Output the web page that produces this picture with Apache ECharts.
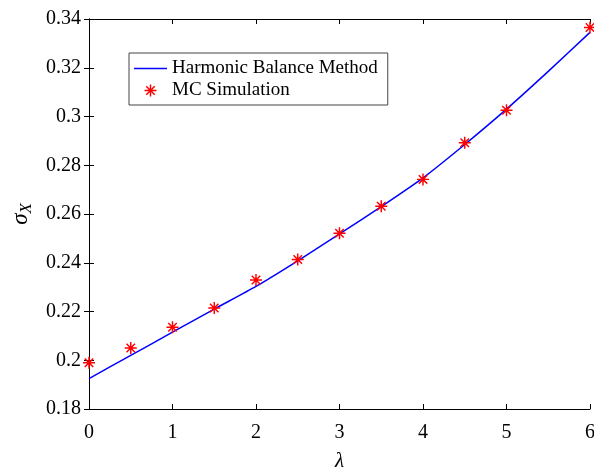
<!DOCTYPE html>
<html><head><meta charset="utf-8">
<script src="https://cdn.jsdelivr.net/npm/echarts@6/dist/echarts.min.js"></script>
<style>html,body{margin:0;padding:0;background:#fff}#c{width:594px;height:468px}</style>
</head><body><div id="c"></div>
<script>
const lineX = [0, 0.5, 1, 1.5, 2, 2.5, 3, 3.5, 4, 4.5, 5, 5.5, 6];
const hbmValues = [0.1925, 0.2020, 0.2115, 0.2210, 0.2303, 0.2408, 0.2518, 0.2630, 0.2748, 0.2885, 0.3030, 0.3185, 0.3345];
const mcX = [0, 0.5, 1, 1.5, 2, 2.5, 3, 3.5, 4, 4.5, 5, 6];
const mcValues = [0.1990, 0.2050, 0.2135, 0.2214, 0.2329, 0.2413, 0.2521, 0.2632, 0.2742, 0.2892, 0.3026, 0.3365];
const seriesNames = ['Harmonic Balance Method', 'MC Simulation'];

const star = 'path://M8.8,0L11.2,0L11.2,20L8.8,20Z M0,8.8L20,8.8L20,11.2L0,11.2Z M2.08,3.78L3.78,2.08L17.92,16.22L16.22,17.92Z M16.22,2.08L17.92,3.78L3.78,17.92L2.08,16.22Z';
const font = '"Liberation Serif", "Times New Roman", serif';
const axisCommon = {
  axisLine: {show: true, lineStyle: {color: '#000', width: 1}},
  axisTick: {show: true, inside: true, length: 5, lineStyle: {color: '#000'}},
  splitLine: {show: false}
};
const chart = echarts.init(document.getElementById('c'), null, {renderer: 'canvas'});
chart.setOption({
  animation: false,
  backgroundColor: '#fff',
  grid: {left: 89, right: 4, top: 19, bottom: 59, containLabel: false, outerBoundsMode: 'none'},
  legend: {
    orient: 'vertical', left: 129, top: 53,
    backgroundColor: '#fff', borderColor: '#444', borderWidth: 1,
    padding: [6, 10, 5, 5], itemGap: 3, itemWidth: 33, itemHeight: 12,
    textStyle: {fontFamily: font, fontSize: 19, color: '#000', padding: [0, 0, 0, 0]},
    data: [
      {name: seriesNames[0], icon: 'path://M0,0L33,0L33,1.6L0,1.6Z', itemStyle: {color: '#0000ff'}},
      {name: seriesNames[1], icon: star, itemStyle: {color: '#ff0000'}}
    ]
  },
  xAxis: [
    Object.assign({type: 'value', min: 0, max: 6, interval: 1, position: 'bottom',
      axisLabel: {fontFamily: font, fontSize: 20, color: '#000', margin: 14},
      name: 'λ', nameLocation: 'middle', nameGap: 42,
      nameTextStyle: {fontFamily: font, fontSize: 21, fontStyle: 'italic', color: '#000'}}, axisCommon),
    Object.assign({type: 'value', min: 0, max: 6, interval: 1, position: 'top', axisLabel: {show: false}}, axisCommon)
  ],
  yAxis: [
    Object.assign({type: 'value', min: 0.18, max: 0.34, interval: 0.02, position: 'left',
      axisLabel: {fontFamily: font, fontSize: 20, color: '#000', margin: 8,
        formatter: v => String(+v.toFixed(2))},
      name: '{a|σ}{b|X}', nameLocation: 'middle', nameGap: 54,
      nameTextStyle: {color: '#000', rich: {
        a: {fontFamily: font, fontSize: 23, fontStyle: 'italic', color: '#000'},
        b: {fontFamily: font, fontSize: 17, fontStyle: 'italic', color: '#000', padding: [12, 0, 0, 0]}
      }}}, axisCommon),
    Object.assign({type: 'value', min: 0.18, max: 0.34, interval: 0.02, position: 'right', axisLabel: {show: false}}, axisCommon)
  ],
  series: [
    {name: seriesNames[0], type: 'line', xAxisIndex: 0, yAxisIndex: 0, symbol: 'none', smooth: 0.2,
      lineStyle: {color: '#0000ff', width: 1.5}, itemStyle: {color: '#0000ff'},
      data: lineX.map((x, i) => [x, hbmValues[i]])},
    {name: seriesNames[1], type: 'scatter', xAxisIndex: 0, yAxisIndex: 0, symbol: star, symbolSize: 12,
      itemStyle: {color: '#ff0000', opacity: 1}, z: 3,
      data: mcX.map((x, i) => [x, mcValues[i]])}
  ]
});
</script></body></html>
